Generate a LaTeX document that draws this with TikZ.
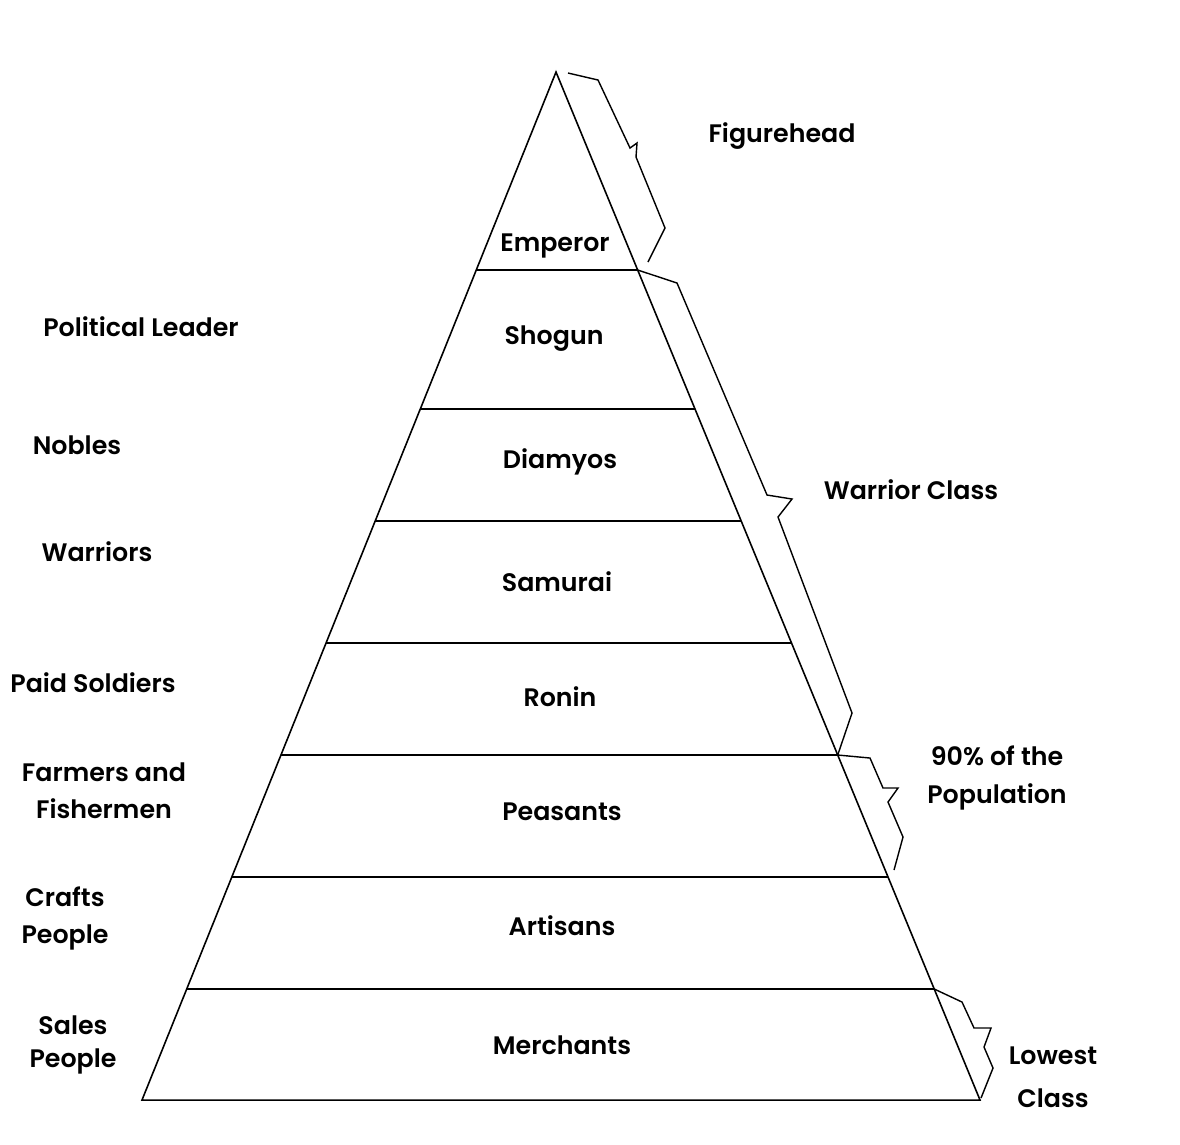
\documentclass[tikz,border=0pt]{standalone}
\usepackage{fontspec}
\usetikzlibrary{calc}
\setmainfont{Poppins}[BoldFont={Poppins SemiBold}]
\begin{document}
\begin{tikzpicture}[x=0.01cm,y=-0.01cm,
  lbl/.style={font=\fontsize{7.2}{9}\selectfont\bfseries, inner sep=0pt, align=center},
  edge/.style={line width=0.45pt, black},
  brace/.style={line width=0.4pt, black, line join=miter}]
\useasboundingbox (0,0) rectangle (1180,1144);
% pyramid
\coordinate (apex) at (556,72);
\coordinate (bl) at (142,1100);
\coordinate (br) at (980,1100);
\draw[edge] (bl) -- (apex) -- (br) -- cycle;
\foreach \y/\n in {270/a,409/b,521/c,643/d,755/e,877/f,989/g}{
  \pgfmathsetmacro{\t}{(\y-72)/1028}
  \draw[edge] ($(apex)!\t!(bl)$) coordinate (L\n) -- ($(apex)!\t!(br)$) coordinate (R\n);
}
% braces
\draw[brace] (568,73) -- (598,80) -- (630,148) -- (637,143) -- (636,157) -- (665,228) -- (648,262);
\draw[brace] (Ra) -- (677,283) -- (767,495) -- (792,499) -- (778,517) -- (852,713) -- (Re);
\draw[brace] (Re) -- (870,758) -- (883,788) -- (898,788) -- (888,802) -- (903,837) -- (894,870);
\draw[brace] (Rg) -- (962,1002) -- (974,1028) -- (991,1028) -- (984,1047) -- (993,1068) -- (981,1098);
% labels
\node[lbl] (figurehead) at (782,136) {Figurehead};
\node[lbl] (emperor) at (555,246) {Emperor};
\node[lbl] (political) at (141,327) {Political Leader};
\node[lbl] (shogun) at (554,339) {Shogun};
\node[lbl] (nobles) at (77,445) {Nobles};
\node[lbl] (diamyos) at (560,462) {Diamyos};
\node[lbl] (warriorclass) at (911,490) {Warrior Class};
\node[lbl] (warriors) at (97,552) {Warriors};
\node[lbl] (samurai) at (557,582) {Samurai};
\node[lbl] (paid) at (93,683) {Paid Soldiers};
\node[lbl] (ronin) at (560,697) {Ronin};
\node[lbl] (farmers) at (104,791) {Farmers and\\[1.5pt]Fishermen};
\node[lbl] (ninety) at (997,778) {90\% of the\\[1.8pt]Population};
\node[lbl] (peasants) at (562,812) {Peasants};
\node[lbl] (crafts) at (65,918) {Crafts\\[1.5pt]People};
\node[lbl] (artisans) at (562,926) {Artisans};
\node[lbl] (sales) at (73,1045) {Sales\\[0.5pt]People};
\node[lbl] (merchants) at (562,1045) {Merchants};
\node[lbl] (lowest) at (1053,1077) {Lowest\\[3.2pt]Class};
\end{tikzpicture}
\end{document}
